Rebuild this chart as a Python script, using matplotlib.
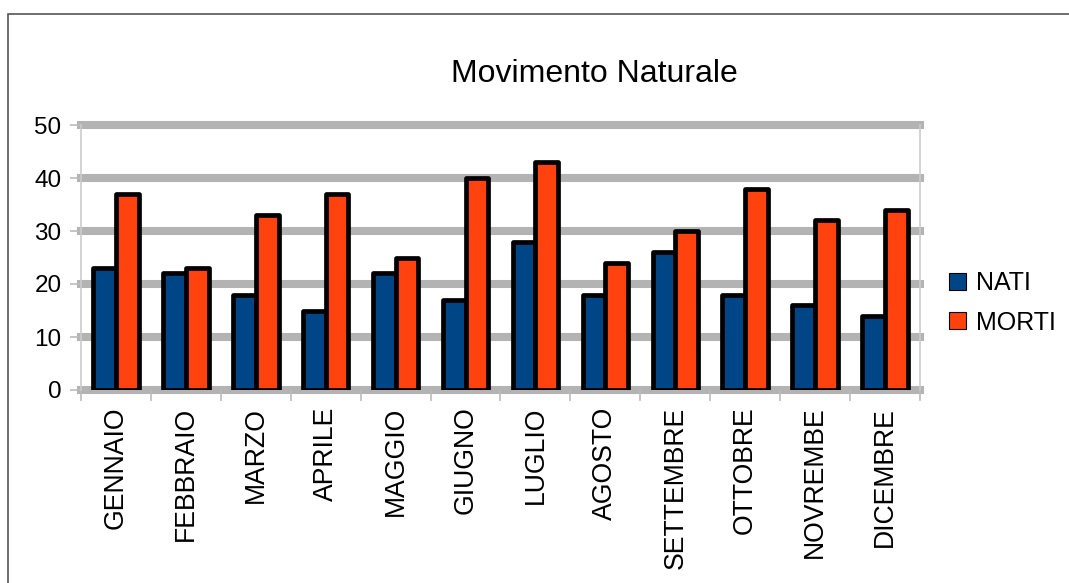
import matplotlib.pyplot as plt
import numpy as np
from matplotlib.patches import Patch, Rectangle

plt.rcParams['font.family'] = ['Liberation Sans', 'DejaVu Sans']

mesi = ["GENNAIO", "FEBBRAIO", "MARZO", "APRILE", "MAGGIO", "GIUGNO",
        "LUGLIO", "AGOSTO", "SETTEMBRE", "OTTOBRE", "NOVREMBE", "DICEMBRE"]
nati = [23, 22, 18, 15, 22, 17, 28, 18, 26, 18, 16, 14]
morti = [37, 23, 33, 37, 25, 40, 43, 24, 30, 38, 32, 34]

COL_NATI = "#004586"
COL_MORTI = "#ff420e"
GRID = "#b3b3b3"
W, H = 1069, 583

fig = plt.figure(figsize=(W / 100, H / 100), dpi=100)
# cornice esterna
fig.patches.append(Rectangle((8 / W, -0.1), 1.2, 1 - 14 / H + 0.1, transform=fig.transFigure,
                             fill=False, edgecolor="#555555", linewidth=1.2))

ax = fig.add_axes([81 / W, 1 - 390 / H, (920 - 81) / W, (390 - 125) / H])
x = np.arange(len(mesi))
bw = 0.325

# griglia orizzontale spessa
for v in range(0, 51, 10):
    ax.axhline(v, color=GRID, linewidth=5.8, zorder=0, clip_on=False)

ax.bar(x - bw / 2, nati, bw, color=COL_NATI, edgecolor="black", linewidth=3.4,
       joinstyle="round", zorder=3)
ax.bar(x + bw / 2, morti, bw, color=COL_MORTI, edgecolor="black", linewidth=3.4,
       joinstyle="round", zorder=3)

ax.set_xlim(-0.5, len(mesi) - 0.5)
ax.set_ylim(0, 50)

for s in ["top", "bottom"]:
    ax.spines[s].set_visible(False)
for s in ["left", "right"]:
    ax.spines[s].set_color("#cccccc")
    ax.spines[s].set_linewidth(1.2)

ax.set_yticks(range(0, 51, 10))
ax.tick_params(axis="y", length=8, color="#bbbbbb", width=1.2, labelsize=17.5, pad=6)
ax.set_xticks(x)
ax.set_xticklabels(mesi, rotation=90, fontsize=19.2)
ax.tick_params(axis="x", which="major", length=0, pad=12)
ax.set_xticks(np.arange(-0.5, len(mesi), 1), minor=True)
ax.tick_params(axis="x", which="minor", length=8, color="#bbbbbb", width=1.2)

fig.text(594 / W, 1 - 82 / H, "Movimento Naturale", fontsize=23, ha="center", va="baseline")

handles = [Patch(facecolor=COL_NATI, edgecolor="black", linewidth=0.8),
           Patch(facecolor=COL_MORTI, edgecolor="black", linewidth=0.8)]
fig.legend(handles, ["NATI", "MORTI"], loc="center left",
           bbox_to_anchor=(949 / W, 1 - 303 / H), frameon=False, fontsize=18,
           handlelength=0.68, handleheight=0.68, handletextpad=0.42,
           labelspacing=0.6, borderaxespad=0, borderpad=0)

fig.savefig("out.png", dpi=100)
